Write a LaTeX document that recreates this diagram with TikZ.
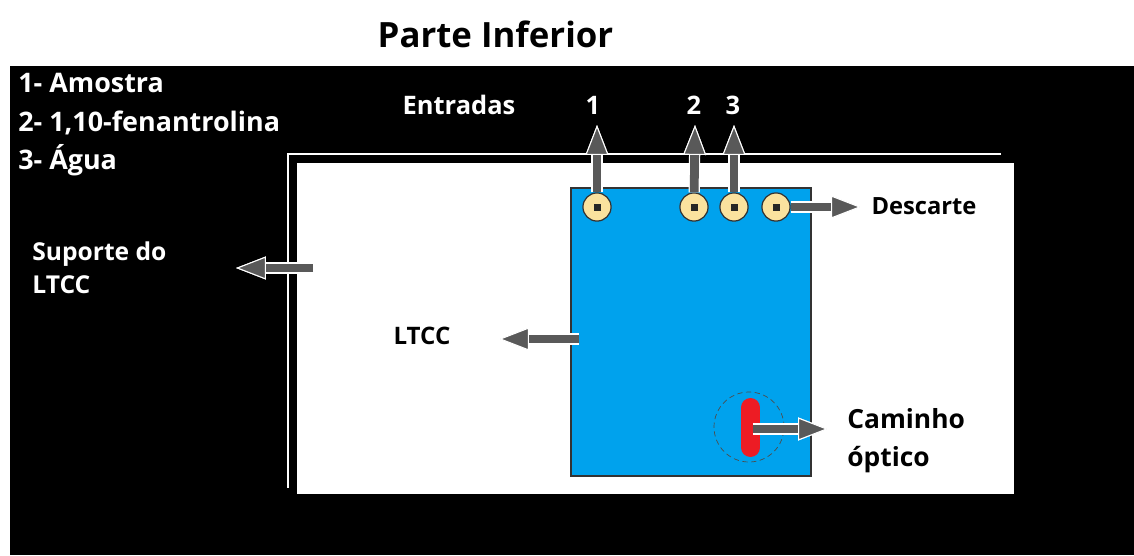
\documentclass[tikz,border=0pt]{standalone}
\usepackage{fontspec}
\setmainfont{Open Sans}
\usetikzlibrary{arrows.meta}
\definecolor{seta}{RGB}{89,89,89}
\definecolor{azul}{RGB}{0,162,237}
\definecolor{furo}{RGB}{250,226,158}
\definecolor{vermelho}{RGB}{237,28,36}
\tikzset{
  seta/.style={draw=seta, line width=5pt,
    -{Triangle[length=17pt,width=13pt,color=white,fill=seta,line width=0.6pt]},
    preaction={draw=white, line width=6.4pt}},
  furo/.style={circle, draw=black!80, fill=furo, line width=0.7pt, minimum size=16pt, inner sep=0pt},
  texto/.style={text=white, font=\fontsize{#1}{#1}\selectfont\bfseries, inner sep=0pt},
  rotulo/.style={text=black, font=\fontsize{#1}{#1}\selectfont\bfseries, inner sep=0pt},
}
\begin{document}
\begin{tikzpicture}[scale=2]
\useasboundingbox (0,0) rectangle (11.34,5.55);
\fill[white] (0,0) rectangle (11.34,5.55);
\fill[black] (0.10,0) rectangle (11.34,4.89);
% suporte
\fill[white] (2.97,0.61) rectangle (10.14,3.92);
\draw[white, line width=1.1pt] (10.01,4.01)--(2.88,4.01)--(2.88,0.67);
% LTCC
\draw[fill=azul, draw=black!80, line width=0.6pt] (5.71,0.79) rectangle (8.11,3.67);
\node[furo] (p1) at (5.97,3.48) {};
\node[furo] (p2) at (6.94,3.48) {};
\node[furo] (p3) at (7.34,3.48) {};
\node[furo] (p4) at (7.76,3.48) {};
\foreach \n in {p1,p2,p3,p4}
  \fill[black!85] (\n.center) ++(-0.035,-0.035) rectangle ++(0.07,0.07);
% caminho optico
\draw[black!70, densely dashed, line width=0.4pt] (7.49,1.28) circle (0.35);
\draw[vermelho, line width=10.8pt, line cap=round] (7.505,1.075)--(7.505,1.475);

\coordinate (a1) at (5.97,4.30);
\coordinate (a2) at (6.95,4.30);
\coordinate (a3) at (7.34,4.30);
\coordinate (a4) at (8.61,3.48);
\coordinate (s0) at (3.13,2.87);
\coordinate (s1) at (2.36,2.87);
\coordinate (l0) at (5.79,2.16);
\coordinate (l1) at (4.99,2.16);
\coordinate (c0) at (7.53,1.26);
\coordinate (c1) at (8.28,1.26);
\draw[seta] (p1) -- (a1);
\draw[seta] (p2) -- (a2);
\draw[seta] (p3) -- (a3);
\draw[seta] (p4) -- (a4);
\draw[seta] (s0) -- (s1);
\draw[seta] (l0) -- (l1);
\draw[seta] (c0) -- (c1);

\node[rotulo=19.8] (titulo) at (4.955,5.21) {Parte Inferior};
\node[texto=15.3, anchor=west] (leg1) at (0.18,4.72) {1- Amostra};
\node[texto=15.3, anchor=west] (leg2) at (0.18,4.32) {2- 1,10-fenantrolina};
\node[texto=15.3, anchor=west] (leg3) at (0.18,3.95) {3- Água};
\node[texto=14.5] (entradas) at (4.59,4.50) {Entradas};
\node[texto=14.5] (n1) at (5.93,4.50) {1};
\node[texto=14.5] (n2) at (6.94,4.50) {2};
\node[texto=14.5] (n3) at (7.33,4.50) {3};
\node[texto=14, anchor=west] (sup1) at (0.32,3.01) {Suporte do};
\node[texto=14, anchor=west] (sup2) at (0.32,2.70) {LTCC};
\node[rotulo=13.7] (ltcc) at (4.22,2.19) {LTCC};
\node[rotulo=13.5] (descarte) at (9.24,3.49) {Descarte};
\node[rotulo=15, anchor=west] (cam1) at (8.47,1.36) {Caminho};
\node[rotulo=15, anchor=west] (cam2) at (8.47,0.95) {óptico};
\end{tikzpicture}
\end{document}
